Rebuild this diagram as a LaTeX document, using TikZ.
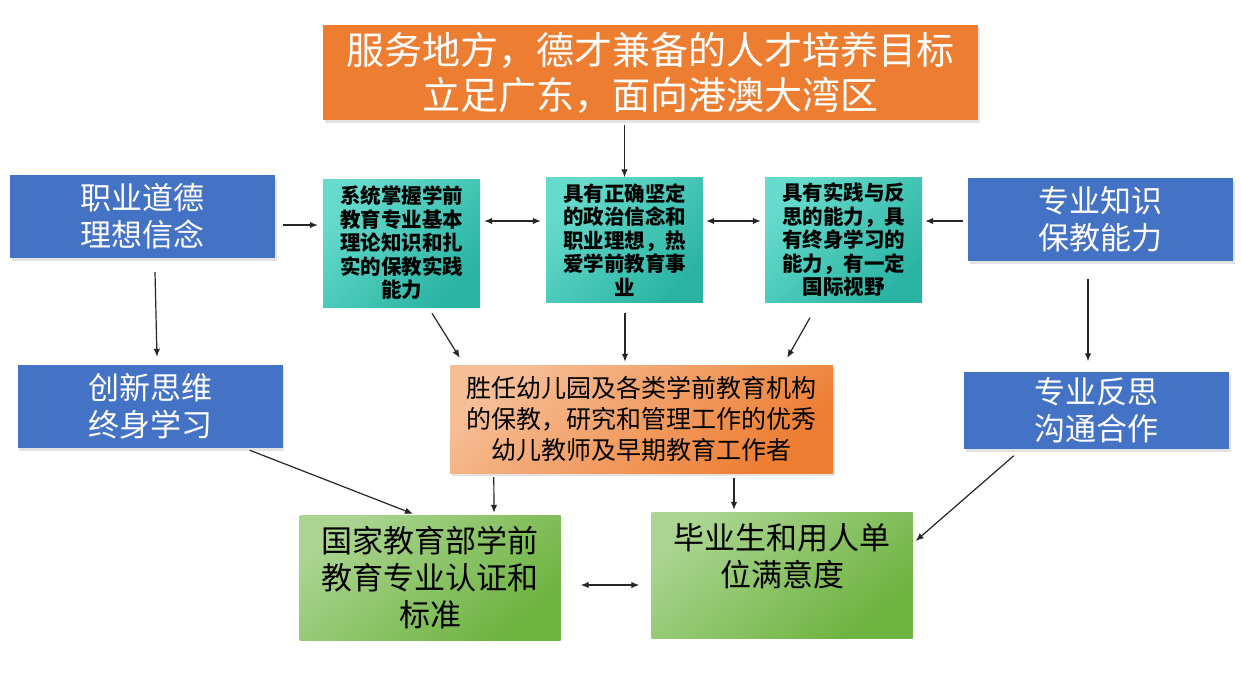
\documentclass[tikz,border=0pt]{standalone}
\usepackage{fontspec}
\newfontfamily\cjk{Noto Sans CJK SC}
\usetikzlibrary{arrows.meta,calc,shadows}
\definecolor{ppblue}{HTML}{4472C4}
\definecolor{pporange}{HTML}{ED7D31}
\definecolor{pplorange}{HTML}{F6BE96}
\definecolor{tealA}{HTML}{66DBCD}
\definecolor{tealB}{HTML}{2AB3A3}
\definecolor{greenA}{HTML}{AAD490}
\definecolor{greenB}{HTML}{6DB33F}
\tikzset{
  box/.style={inner sep=0pt, align=center, font=\cjk},
  shad/.style={drop shadow={opacity=0.22, shadow xshift=1.5pt, shadow yshift=-3pt}},
  titlebox/.style={box, shad, fill=pporange, text=white, minimum width=655pt, minimum height=95pt, font=\cjk\fontsize{38pt}{45pt}\selectfont},
  bluebox/.style={box, shad, fill=ppblue, text=white, minimum width=265pt, minimum height=83pt, font=\cjk\fontsize{31pt}{37pt}\selectfont},
  tealbox/.style={box, top color=tealA, bottom color=tealB, shading angle=45, text=black, minimum width=157pt, minimum height=125pt, font=\cjk\bfseries\fontsize{20.5pt}{23.5pt}\selectfont},
  midbox/.style={box, shad, top color=pplorange, bottom color=pporange, shading angle=40, text=black, minimum width=383pt, minimum height=108pt, font=\cjk\fontsize{25pt}{31pt}\selectfont},
  greenbox/.style={box, top color=greenA, bottom color=greenB, shading angle=40, text=black, minimum width=261pt, minimum height=125pt, font=\cjk\fontsize{31pt}{37pt}\selectfont},
  arr/.style={draw=black!85, line width=1.2pt, -{Latex[length=8pt,width=6.5pt]}},
  darr/.style={draw=black!85, line width=1.2pt, {Latex[length=8pt,width=6.5pt]}-{Latex[length=8pt,width=6.5pt]}}
}
\begin{document}
\begin{tikzpicture}[x=1pt,y=-1pt]
\useasboundingbox[fill=white] (0,0) rectangle (1241,698);

\node[titlebox] (title) at (650.5,72.5) {服务地方，德才兼备的人才培养目标\\立足广东，面向港澳大湾区};

\node[bluebox] (tl) at (142.5,216.5) {职业道德\\理想信念};
\node[bluebox] (bl) at (150,406.5) {创新思维\\终身学习};
\node[bluebox] (tr) at (1100.5,219) {专业知识\\保教能力};
\node[bluebox, minimum height=77pt] (br) at (1096.5,410) {专业反思\\沟通合作};

\node[tealbox, minimum height=128pt] (t1) at (401.5,243) {系统掌握学前\\教育专业基本\\理论知识和扎\\实的保教实践\\能力};
\node[tealbox] (t2) at (624.5,240) {具有正确坚定\\的政治信念和\\职业理想，热\\爱学前教育事\\业};
\node[tealbox] (t3) at (843.5,240) {具有实践与反\\思的能力，具\\有终身学习的\\能力，有一定\\国际视野};

\node[midbox] (mid) at (641.5,419) {胜任幼儿园及各类学前教育机构\\的保教，研究和管理工作的优秀\\幼儿教师及早期教育工作者};

\node[greenbox] (g1) at (430,577.5) {国家教育部学前\\教育专业认证和\\标准};
\node[greenbox, minimum height=126pt] (g2) at (782,575) {毕业生和用人单\\位满意度\\\phantom{位}};

% connectors
\draw[arr, shorten <=5pt] (title.south -| t2.north) -- (t2.north);
\draw[arr] ($(tl.east)+(8,8.5)$) -- ($(t1.west)+(-5,-18)$);
\draw[darr] ($(t1.east)+(4,-22)$) -- ($(t2.west)+(-5,-19)$);
\draw[darr] ($(t2.east)+(3,-19)$) -- ($(t3.west)+(-4,-19)$);
\draw[arr] ($(tr.west)+(-5,2)$) -- ($(t3.east)+(3,-19)$);
\draw[arr] ($(tl.south)+(12.5,14)$) -- ($(bl.north)+(7,-8)$);
\draw[arr] ($(tr.south)+(-12.5,18)$) -- ($(br.north)+(-8.5,-10)$);
\draw[arr] ($(t1.south)+(30.5,6)$) -- ($(mid.north west)+(10,-7)$);
\draw[arr] ($(t2.south)+(0.5,10)$) -- ($(mid.north)+(-16.5,-3)$);
\draw[arr] ($(t3.south)+(-33.5,15)$) -- ($(mid.north east)+(-46,-7)$);
\draw[arr] ($(bl.south east)+(-33,2)$) -- ($(g1.north)+(-17,-1)$);
\draw[arr] ($(mid.south west)+(44,4)$) -- ($(g1.north)+(64,-2)$);
\draw[arr] ($(mid.south)+(92.5,5)$) -- ($(g2.north)+(-48,-2)$);
\draw[arr] ($(br.south west)+(50,7)$) -- ($(g2.east)+(3,-34)$);
\draw[darr] ($(g1.east)+(20,7.5)$) -- ($(g2.west)+(-12,10)$);
\end{tikzpicture}
\end{document}
